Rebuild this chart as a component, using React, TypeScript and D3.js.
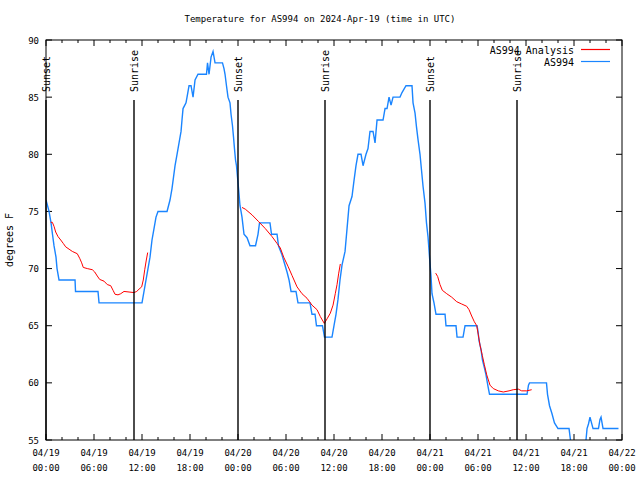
import React from "react";
import * as d3 from "d3";

// Data (hours since 2024-04-19 00:00 UTC)
const obsHours = [0, 0.38, 0.63, 0.81, 1.0, 1.25, 1.38, 1.63, 3.63, 3.69, 6.5, 6.63, 12.0, 12.25, 12.5, 12.75, 13.0, 13.25, 13.5, 13.75, 14.0, 15.13, 15.5, 15.75, 15.94, 16.13, 16.38, 16.63, 16.88, 17.0, 17.13, 17.5, 17.63, 17.88, 18.13, 18.38, 18.63, 19.0, 20.06, 20.19, 20.38, 20.63, 20.88, 21.13, 22.06, 22.25, 22.38, 22.56, 22.75, 23.0, 23.13, 23.31, 23.44, 23.56, 23.69, 23.81, 23.94, 24.13, 24.25, 24.38, 24.5, 24.75, 25.13, 25.5, 26.19, 26.5, 26.69, 28.0, 28.19, 28.88, 29.06, 29.5, 29.75, 30.13, 30.38, 30.63, 31.25, 31.5, 33.0, 33.25, 33.63, 33.81, 34.56, 34.81, 35.75, 36.0, 36.25, 36.5, 36.75, 37.0, 37.38, 37.63, 37.88, 38.25, 38.5, 38.75, 39.0, 39.38, 39.63, 40.0, 40.25, 40.5, 40.88, 41.13, 41.38, 42.13, 42.38, 42.63, 42.88, 43.13, 43.38, 44.25, 44.5, 45.0, 45.75, 45.88, 46.13, 46.31, 46.5, 46.75, 46.94, 47.13, 47.38, 47.56, 47.75, 47.94, 48.13, 48.25, 48.5, 48.75, 49.88, 50.0, 51.25, 51.38, 52.13, 52.38, 53.88, 54.0, 54.13, 54.38, 54.56, 54.81, 55.0, 55.25, 55.44, 60.13, 60.31, 60.44, 62.56, 62.69, 62.94, 63.25, 63.56, 64.0, 65.38, 65.56, 65.75, 67.25, 67.5, 67.63, 67.81, 68.0, 68.19, 68.38, 69.06, 69.25, 69.38, 69.63, 71.56];
const obsTemps = [76, 75, 74, 73, 72, 71, 70, 69, 69, 68, 68, 67, 67, 68, 69, 70, 71, 72.5, 73.5, 74.5, 75, 75, 76, 77, 78, 79, 80, 81, 82, 83, 84, 84.5, 85, 86, 86, 85, 86.5, 87, 87, 88, 87, 88.5, 89, 88, 88, 87.5, 87, 86, 85, 84.5, 83.5, 82.5, 81.5, 80.5, 79.5, 79, 78, 76.5, 75.5, 75, 74.5, 73, 72.7, 72, 72, 73, 74, 74, 73, 73, 72, 71.2, 70.6, 69.7, 69, 68, 68, 67, 67, 66, 66, 65, 65, 64, 64, 65, 66, 67.3, 69, 70.3, 71.5, 73.5, 75.5, 76.3, 77.7, 79, 80, 80, 79, 80, 80.5, 82, 82, 81, 83, 83, 84, 84, 85, 84.3, 85, 85, 85.4, 86, 86, 84.5, 83.6, 82.4, 81.3, 80, 78.6, 77.2, 75.7, 74, 72.8, 71, 69.3, 67.8, 67, 66, 66, 65, 65, 64, 64, 65, 65, 64.5, 63.7, 62.9, 62, 61.3, 60.7, 59.7, 59, 59, 59.8, 60, 60, 59, 58, 57.3, 56.5, 56, 56, 55, 54, 54, 55, 56, 56.4, 57, 56.5, 56, 56, 56.8, 57, 56, 56];

const anaHours1 = [0.59, 0.79, 1.0, 1.21, 1.5, 1.84, 2.16, 2.46, 2.88, 3.29, 3.91, 4.21, 4.46, 4.66, 5.16, 5.79, 6.09, 6.41, 6.71, 7.25, 7.66, 8.09, 8.38, 8.63, 9.0, 9.34, 9.75, 10.38, 11.0, 11.34, 11.63, 11.96, 12.16, 12.34, 12.54, 12.71];
const anaTemps1 = [74.05, 74.05, 73.7, 73.2, 72.8, 72.5, 72.2, 71.9, 71.7, 71.5, 71.3, 70.9, 70.5, 70.1, 70.0, 69.9, 69.7, 69.35, 69.05, 68.9, 68.6, 68.5, 68.1, 67.75, 67.7, 67.8, 68.0, 67.95, 67.9, 68.0, 68.2, 68.4, 69.0, 69.9, 70.75, 71.4];
const anaHours2 = [24.5, 24.91, 25.75, 26.59, 27.41, 28.25, 28.88, 29.29, 29.71, 30.25, 30.75, 31.38, 32.0, 32.63, 33.25, 33.88, 34.29, 34.79, 35.13, 35.54, 35.88, 36.16, 36.38, 36.59, 36.79];
const anaTemps2 = [75.35, 75.2, 74.7, 74.1, 73.5, 72.8, 72.2, 71.8, 71.0, 70.2, 69.4, 68.4, 67.8, 67.4, 66.8, 66.4, 65.8, 65.2, 65.6, 66.1, 66.8, 67.8, 68.6, 69.6, 70.4];
const anaHours3 = [48.71, 48.96, 49.25, 49.54, 50.09, 50.71, 51.34, 51.96, 52.59, 52.88, 53.21, 53.54, 53.84, 54.04, 54.25, 54.54, 54.79, 55.09, 55.5, 55.91, 56.54, 57.16, 57.88, 58.41, 59.04, 59.46, 60.09, 60.71];
const anaTemps3 = [69.6, 69.3, 68.6, 68.1, 67.8, 67.5, 67.1, 66.9, 66.7, 66.4, 65.85, 65.35, 65.0, 64.2, 63.3, 62.4, 61.6, 60.7, 59.8, 59.5, 59.3, 59.2, 59.3, 59.4, 59.45, 59.3, 59.3, 59.4];

const sunLabels = ["Sunset", "Sunrise", "Sunset", "Sunrise", "Sunset", "Sunrise"];
const sunHours = [0, 11.0, 24.0, 34.9, 48.0, 58.9];

const yTicks = [55, 60, 65, 70, 75, 80, 85, 90];
const titleText = "Temperature for AS994 on 2024-Apr-19 (time in UTC)";
const yLabel = "degrees F";
const seriesNames = ["AS994 Analysis", "AS994"];
const seriesColors = ["#ff0000", "#1a85ff"];

const FONT = "'DejaVu Sans Mono', monospace";
const t0 = Date.UTC(2024, 3, 19, 0, 0);
const toDate = (h: number) => new Date(t0 + h * 3600 * 1000);

export default function App() {
  const W = 640, H = 480;
  const L = 46, R = 622, T = 40, B = 440;
  const x = d3.scaleUtc().domain([toDate(0), toDate(72)]).range([L, R]);
  const y = d3.scaleLinear().domain([55, 90]).range([B, T]);

  const line = d3
    .line<[number, number]>()
    .x((d) => x(toDate(d[0])))
    .y((d) => y(d[1]));

  const obs: [number, number][] = obsHours.map((h, i) => [h, obsTemps[i]]);
  const anaSegs: [number, number][][] = [
    anaHours1.map((h, i) => [h, anaTemps1[i]] as [number, number]),
    anaHours2.map((h, i) => [h, anaTemps2[i]] as [number, number]),
    anaHours3.map((h, i) => [h, anaTemps3[i]] as [number, number]),
  ];

  const xTicks = d3.utcHour.every(2)!.range(toDate(0), toDate(72.01));
  const fmtD = d3.utcFormat("%m/%d");
  const fmtT = d3.utcFormat("%H:%M");

  return (
    <svg
      width={W}
      height={H}
      style={{ position: "absolute", left: 0, top: 0, background: "#fff" }}
      fontFamily={FONT}
      fontSize={9}
    >
      <defs>
        <clipPath id="plotclip">
          <rect x={L} y={T} width={R - L} height={B - T} />
        </clipPath>
      </defs>
      <rect x={0} y={0} width={W} height={H} fill="#fff" />
      <text x={320} y={22} textAnchor="middle" fill="#000">{titleText}</text>
      <text
        transform={`translate(13,${(T + B) / 2}) rotate(-90)`}
        textAnchor="middle"
        fill="#000"
        fontSize={10}
      >
        {yLabel}
      </text>

      {/* y ticks */}
      {yTicks.map((v) => (
        <g key={"y" + v}>
          <line x1={L} x2={L + 6} y1={y(v)} y2={y(v)} stroke="#000" />
          <line x1={R} x2={R - 6} y1={y(v)} y2={y(v)} stroke="#000" />
          <text x={39} y={y(v) + 3.5} textAnchor="end" fill="#000">{v}</text>
        </g>
      ))}
      {/* x ticks */}
      {xTicks.map((d, i) => {
        const major = d.getUTCHours() % 6 === 0;
        const len = major ? 6 : 3;
        const px = x(d);
        return (
          <g key={"x" + i}>
            <line x1={px} x2={px} y1={B} y2={B - len} stroke="#000" />
            <line x1={px} x2={px} y1={T} y2={T + len} stroke="#000" />
            {major && (
              <>
                <text x={px} y={456} textAnchor="middle" fill="#000">{fmtD(d)}</text>
                <text x={px} y={471} textAnchor="middle" fill="#000">{fmtT(d)}</text>
              </>
            )}
          </g>
        );
      })}

      <g clipPath="url(#plotclip)">
        <path d={line(obs) || ""} fill="none" stroke={seriesColors[1]} strokeWidth={1.4} />
        {anaSegs.map((s, i) => (
          <path key={"a" + i} d={line(s) || ""} fill="none" stroke={seriesColors[0]} strokeWidth={1} />
        ))}
      </g>

      {/* sun lines */}
      {sunHours.map((h, i) => {
        const px = Math.round(x(toDate(h)));
        return (
          <g key={"s" + i}>
            <line x1={px} x2={px} y1={100} y2={B} stroke="#000" strokeWidth={1.4} />
            <text
              transform={`translate(${px + 3.5},92) rotate(-90)`}
              textAnchor="start"
              fill="#000"
              fontSize={10}
            >
              {sunLabels[i]}
            </text>
          </g>
        );
      })}

      {/* legend */}
      {seriesNames.map((n, i) => (
        <g key={"l" + i}>
          <text x={574} y={53.5 + i * 12} textAnchor="end" fill="#000" fontSize={10}>{n}</text>
          <line x1={581} x2={610} y1={49.5 + i * 12} y2={49.5 + i * 12} stroke={seriesColors[i]} strokeWidth={1.2} />
        </g>
      ))}

      <rect x={L} y={T} width={R - L} height={B - T} fill="none" stroke="#000" strokeWidth={1} />
    </svg>
  );
}
